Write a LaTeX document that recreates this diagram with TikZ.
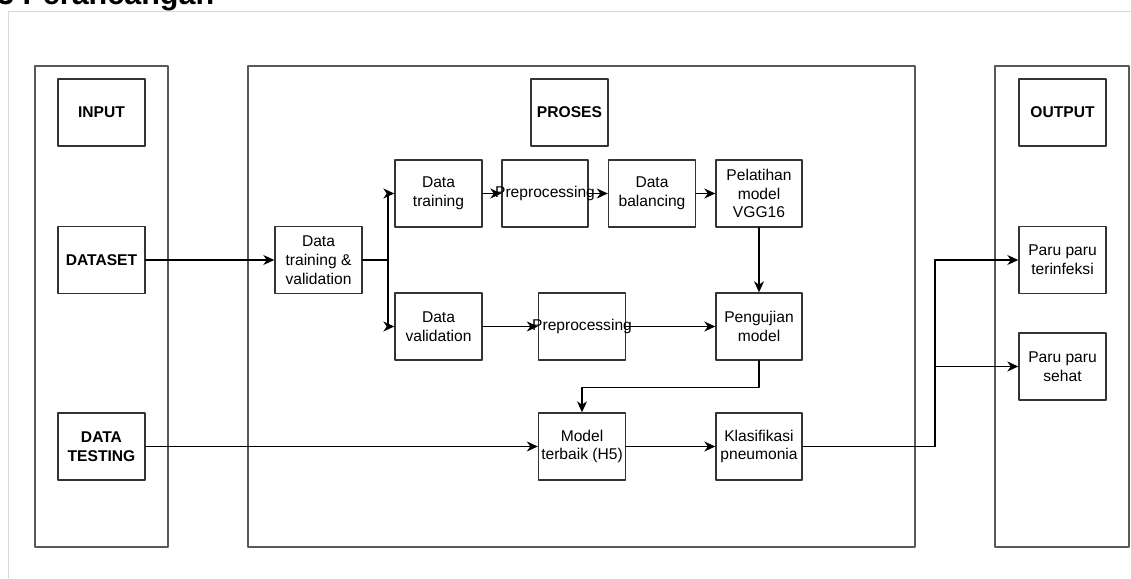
\documentclass[tikz,border=0pt]{standalone}
\usepackage{fontspec}
\setmainfont{Liberation Sans}
\usetikzlibrary{arrows.meta}
\newcommand{\widetext}[1]{\makebox[70pt]{#1}}
\begin{document}
\begin{tikzpicture}[line cap=round,line join=round,>={Stealth[length=11pt,width=10pt,inset=3.5pt]},x=1pt,y=-1pt,
  box/.style={draw=black!80,line width=1.4pt,minimum width=87pt,minimum height=67pt,inner sep=0pt,align=center,
    font=\fontsize{15.6}{18.8}\selectfont},
  headbox/.style={box,font=\bfseries\fontsize{15.6}{18.8}\selectfont},
  frame/.style={draw=black!65,line width=1.6pt},
  link/.style={->,line width=1.4pt,black}]
\clip (0,0) rectangle (1131,578);
\node[anchor=base west,font=\bfseries\fontsize{30.5}{36}\selectfont,inner sep=0pt] (title) at (-3,5) {3 Perancangan};
\draw[black!15,line width=0.8pt] (8,578)--(8,11)--(1131,11);
% kolom
\draw[frame] (35,66) rectangle (168,547);
\draw[frame] (248,66) rectangle (915,547);
\draw[frame] (995,66) rectangle (1129,547);
% input
\node[headbox] (input) at (101.5,112.5) {INPUT};
\node[headbox] (dataset) at (101.5,260) {DATASET};
\node[headbox] (testing) at (101.5,446.5) {DATA\\TESTING};
% proses
\node[headbox,minimum width=77pt] (proses) at (569.5,112.5) {PROSES};
\node[box] (dtv) at (318.5,260) {Data\\training \&\\validation};
\node[box] (dtrain) at (438.5,193.5) {Data\\training};
\node[box,minimum width=86pt] (prep1) at (545,193.5) {\widetext{Preprocessing}};
\node[box] (balance) at (652,193.5) {Data\\balancing};
\node[box,minimum width=86pt] (vgg) at (759,193.5) {Pelatihan\\model\\VGG16};
\node[box] (dval) at (438.5,326.5) {Data\\validation};
\node[box] (prep2) at (582,326.5) {\widetext{Preprocessing}};
\node[box,minimum width=86pt] (uji) at (759,326.5) {Pengujian\\model};
\node[box] (best) at (582,446.5) {Model\\terbaik (H5)};
\node[box,minimum width=86pt] (klas) at (759,446.5) {Klasifikasi\\pneumonia};
% output
\node[headbox] (output) at (1062.5,112.5) {OUTPUT};
\node[box] (infeksi) at (1062.5,260) {Paru paru\\terinfeksi};
\node[box] (sehat) at (1062.5,366.5) {Paru paru\\sehat};
% alur
\coordinate (split) at (388,260);
\coordinate (fork) at (935,446.5);
\draw[link] (dataset.east)--(dtv.west);
\draw[link] (dtv.east)--(split)|-(dtrain.west);
\draw[link] (split)|-(dval.west);
\draw[link] (dtrain.east)--(prep1.west);
\draw[link] (prep1.east)--(balance.west);
\draw[link] (balance.east)--(vgg.west);
\draw[link] (vgg.south)--(uji.north);
\draw[link] (dval.east)--(prep2.west);
\draw[link] (prep2.east)--(uji.west);
\draw[link] (uji.south)--++(0,27)-|(best.north);
\draw[link] (testing.east)--(best.west);
\draw[link] (best.east)--(klas.west);
\draw[link] (klas.east)--(fork)|-(infeksi.west);
\draw[link] (fork)|-(sehat.west);
\end{tikzpicture}
\end{document}
